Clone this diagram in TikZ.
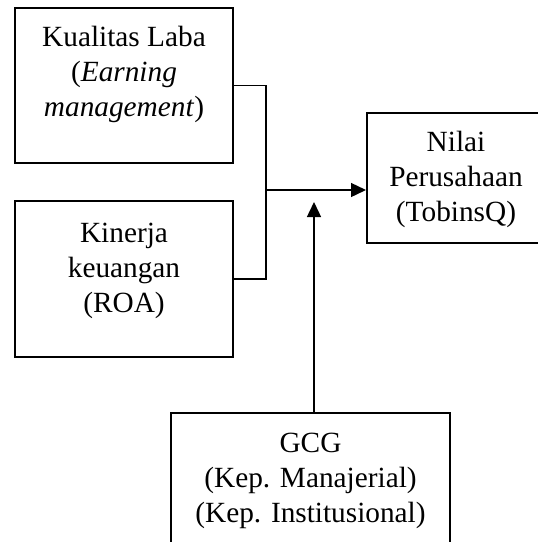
\documentclass[tikz,border=0pt]{standalone}
\usepackage{fontspec}
\setmainfont{Liberation Serif}
\usetikzlibrary{arrows.meta}
\begin{document}
\begin{tikzpicture}[x=1pt,y=-1pt,
  box/.style={draw, line width=2pt, inner sep=0pt},
  conn/.style={line width=1.4pt},
  txt/.style={font=\fontsize{29.3}{35}\selectfont, align=center, inner sep=0pt, anchor=north},
  tip/.style={-{Triangle[length=15pt,width=14pt]}}]
\useasboundingbox (0,0) rectangle (538,542);
\clip (0,0) rectangle (538,542);
% boxes
\node[box, minimum width=218pt, minimum height=155pt] (kl) at (124,85.5) {};
\node[box, minimum width=218pt, minimum height=156pt] (kr) at (124,279) {};
\node[box, minimum width=178pt, minimum height=130pt] (nilai) at (456,178) {};
\node[box, minimum width=279pt, minimum height=150pt] (gcg) at (310.5,488) {};
% texts
\node[txt] (kltext) at (124,25.5) {Kualitas Laba\\(\textit{Earning}\\\textit{management})};
\node[txt] (krtext) at (124,222.5) {Kinerja\\keuangan\\(ROA)};
\node[txt] (nilaitext) at (456,130.5) {Nilai\\Perusahaan\\(TobinsQ)};
\node[txt] (gcgtext) at (310.5,432.5) {GCG\\(Kep. Manajerial)\\(Kep. Institusional)};
% connectors
\coordinate (bend1) at (266,85.5);
\coordinate (bend2) at (266,279);
\coordinate (j) at (266,190);
\coordinate (uptip) at (314,202);
\draw[conn] (kl.east) -- (bend1) -- (bend2) -- (kr.east);
\draw[conn,tip] (j) -- (j -| nilai.west);
\draw[conn,tip] (uptip |- gcg.north) -- (uptip);
\end{tikzpicture}
\end{document}
